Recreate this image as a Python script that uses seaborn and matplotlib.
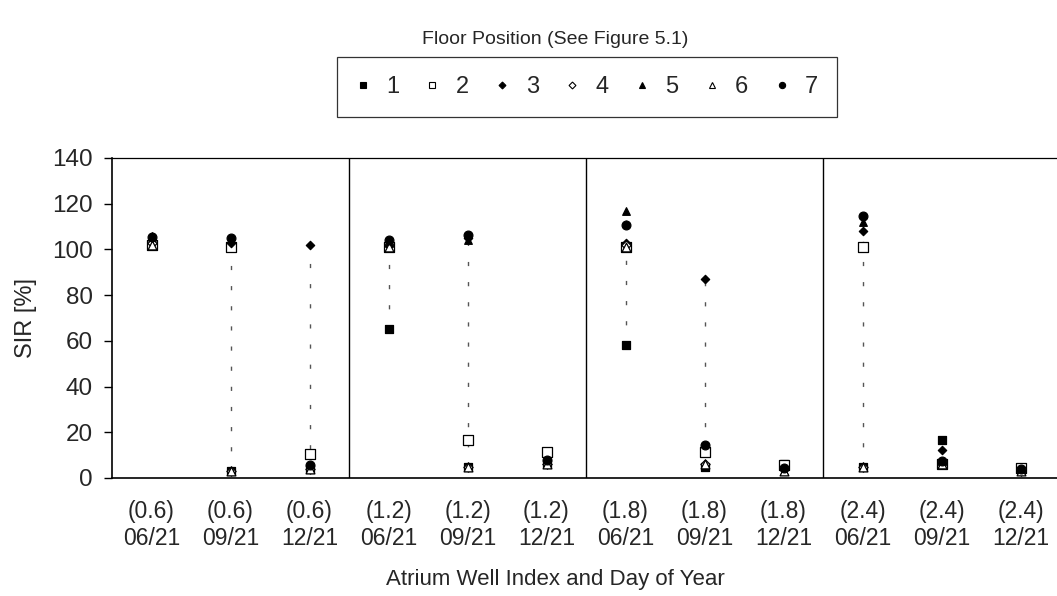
import numpy as np
import pandas as pd
import matplotlib
matplotlib.use("Agg")
import matplotlib.pyplot as plt
import seaborn as sns
from matplotlib.lines import Line2D

sns.set_style("white")
plt.rcParams['font.family'] = ['Liberation Sans', 'DejaVu Sans']

categories = ["(0.6)\n06/21", "(0.6)\n09/21", "(0.6)\n12/21",
              "(1.2)\n06/21", "(1.2)\n09/21", "(1.2)\n12/21",
              "(1.8)\n06/21", "(1.8)\n09/21", "(1.8)\n12/21",
              "(2.4)\n06/21", "(2.4)\n09/21", "(2.4)\n12/21"]

floor1 = [102, 3, 4, 65, 5, 6, 58, 5, 6, 5, 16.5, 4]
floor2 = [102, 101, 10.3, 101, 16.5, 11.4, 101, 11.5, 5.5, 101, 6, 4.5]
floor3 = [104, 103, 102, 102, 105, 6, 103, 87, 4, 108, 12.4, 3]
floor4 = [103, 3, 4, 102, 5, 6, 102, 6, 4, 5, 6, 3]
floor5 = [106, 3, 4, 103, 104, 6, 117, 5, 3, 112, 6, 3]
floor6 = [102, 3, 4, 101, 5, 6, 101, 6, 3, 5, 6, 3]
floor7 = [105.5, 105, 5.6, 104, 106.5, 7.7, 110.5, 14.3, 4.5, 114.5, 7.4, 4]

series_names = ["1", "2", "3", "4", "5", "6", "7"]
series_vals = [floor1, floor2, floor3, floor4, floor5, floor6, floor7]

# marker styles: (marker, filled, size)
styles = [("s", True, 36), ("s", False, 60), ("D", True, 18), ("D", False, 22),
          ("^", True, 30), ("^", False, 40), ("o", True, 40)]

W, H = 1057, 596
fig = plt.figure(figsize=(W / 100, H / 100), dpi=100)
ax = fig.add_axes([112 / W, (H - 478) / H, 948 / W, 320 / H])

x = np.arange(len(categories))
data = np.array(series_vals)

# high-low lines
ax.vlines(x, data.min(axis=0), data.max(axis=0), colors="#555555",
          linewidth=1.0, linestyles=(0, (3, 11.5)), zorder=1)

for name, vals, (m, filled, s) in zip(series_names, series_vals, styles):
    df = pd.DataFrame({"x": x, "y": vals})
    sns.scatterplot(data=df, x="x", y="y", marker=m, s=s,
                    color="black" if filled else "white",
                    edgecolor="black", linewidth=0.9, ax=ax, zorder=3,
                    legend=False)

for b in [2.5, 5.5, 8.5]:
    ax.axvline(b, color="black", lw=1.0, zorder=2)

ax.set_xlim(-0.5, len(categories) - 0.5)
ax.set_ylim(0, 140)
ax.set_yticks(np.arange(0, 141, 20))
ax.set_xticks(x)
ax.set_xticklabels(categories, fontsize=16.5, linespacing=1.2)
ax.set_xticks([-0.5, 2.5, 5.5, 8.5, 11.5], minor=True)
ax.tick_params(axis="x", which="major", length=0, pad=16)
ax.tick_params(axis="x", which="minor", length=5, width=1, direction="out", color="black")
ax.tick_params(axis="y", length=6, width=1, direction="out", color="black",
               labelsize=17.5, pad=8, left=True)

for sp in ["left", "bottom", "top"]:
    ax.spines[sp].set_visible(True)
    ax.spines[sp].set_color("black")
    ax.spines[sp].set_linewidth(1.2)
ax.spines["top"].set_linewidth(0.9)
ax.spines["right"].set_visible(False)

ax.set_xlabel("Atrium Well Index and Day of Year", fontsize=16)
ax.xaxis.label.set_va("center")
ax.xaxis.set_label_coords((555 - 112) / 948, -(580 - 478) / 320)
ax.set_ylabel("SIR [%]", fontsize=17)
ax.yaxis.label.set_va("center")
ax.yaxis.set_label_coords(-(112 - 26) / 948, 0.5)

fig.text(555 / W, 1 - 40 / H, "Floor Position (See Figure 5.1)", ha="center",
         va="center", fontsize=14)

handles = []
for name, (m, filled, s) in zip(series_names, styles):
    ms = {"s": 4.5, "D": 3.5, "^": 4.2, "o": 4.5}[m]
    handles.append(Line2D([], [], linestyle="none", marker=m, markersize=ms,
                          markerfacecolor="black" if filled else "white",
                          markeredgecolor="black", markeredgewidth=0.8))
leg = fig.legend(handles, series_names, loc="center", ncol=7,
                 bbox_to_anchor=(587 / W, 1 - 87 / H), fontsize=17,
                 frameon=True, fancybox=False, edgecolor="black",
                 handlelength=0.6, handletextpad=0.7, columnspacing=1.1,
                 borderpad=0.8, borderaxespad=0)
leg.get_frame().set_linewidth(0.9)

fig.savefig("out.png", dpi=100)
